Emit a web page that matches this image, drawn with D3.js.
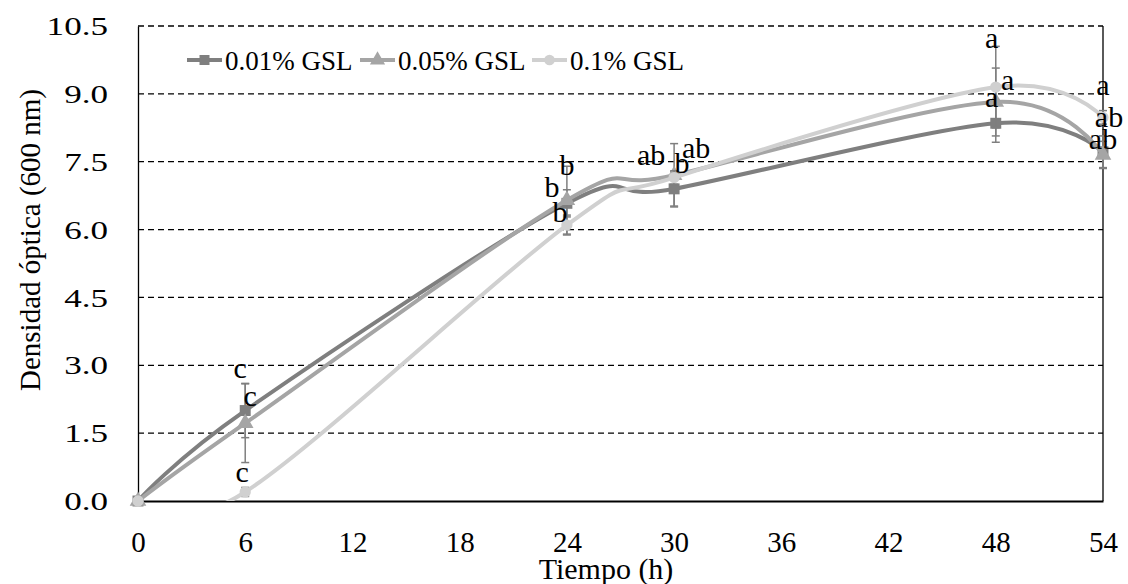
<!DOCTYPE html>
<html>
<head>
<meta charset="utf-8">
<script src="https://cdn.jsdelivr.net/npm/d3@7"></script>
<style>
  html, body { margin: 0; padding: 0; background: #ffffff; }
</style>
</head>
<body>
<div id="wrapper"></div>
<script>
// hours where the readings were taken
const hours = [0, 6, 24, 30, 48, 54]
const xTicks = [0, 6, 12, 18, 24, 30, 36, 42, 48, 54]
const yTicks = [0, 1.5, 3, 4.5, 6, 7.5, 9, 10.5]

const seriesNames = ['0.01% GSL', '0.05% GSL', '0.1% GSL']

// optical density per series
const gsl001 = [0, 2.0, 6.58, 6.9, 8.35, 7.72]
const gsl005 = [0, 1.72, 6.65, 7.2, 8.82, 7.65]
const gsl01 = [0, 0.2, 6.1, 7.15, 9.15, 8.48]

// error bar half widths
const err001 = [0, 0.6, 0.3, 0.38, 0.42, 0.35]
const err005 = [0, 0.87, 0.75, 0.7, 0.75, 0.3]
const err01 = [0, 0.1, 0.22, 0.15, 0.9, 0.15]

// significance letters
const letters001 = ['', 'c', 'b', 'ab', 'a', 'ab']
const letters005 = ['', 'c', 'b', 'ab', 'a', 'ab']
const letters01 = ['', 'c', 'b', 'b', 'a', 'a']

const serif = '"Liberation Serif"'

const dimensions = {
  width: 1128,
  height: 584,
  margin: { top: 26, right: 25, bottom: 83, left: 138 },
}
dimensions.boundedWidth =
  dimensions.width - dimensions.margin.left - dimensions.margin.right
dimensions.boundedHeight =
  dimensions.height - dimensions.margin.top - dimensions.margin.bottom

const series = [
  { name: seriesNames[0], values: gsl001, errors: err001, letters: letters001,
    color: '#7f7f7f', marker: d3.symbolSquare,
    offsets: [[0, 0], [5, -5], [-15, -6], [-23, -24], [-4, -16], [0, -3]] },
  { name: seriesNames[1], values: gsl005, errors: err005, letters: letters005,
    color: '#a5a5a5', marker: d3.symbolTriangle,
    offsets: [[0, 0], [-5, -45], [0, -25], [22, -17], [12, -12], [6, -28]] },
  { name: seriesNames[2], values: gsl01, errors: err01, letters: letters01,
    color: '#d0d0d0', marker: d3.symbolCircle,
    offsets: [[0, 0], [-3, -10], [-7, -3], [8, -5], [-4, -39], [0, -22]] },
]

const xScale = d3.scaleLinear()
  .domain([0, 54])
  .range([0, dimensions.boundedWidth])

const yScale = d3.scaleLinear()
  .domain([0, 10.5])
  .range([dimensions.boundedHeight, 0])

const wrapper = d3.select('#wrapper')
  .append('svg')
  .attr('width', dimensions.width)
  .attr('height', dimensions.height)

const bounds = wrapper.append('g')
  .attr('transform', `translate(${dimensions.margin.left}, ${dimensions.margin.top})`)

// dashed gridlines
bounds.append('g')
  .selectAll('line')
  .data(yTicks.filter((d) => d > 0))
  .join('line')
  .attr('x1', 0)
  .attr('x2', dimensions.boundedWidth)
  .attr('y1', (d) => yScale(d))
  .attr('y2', (d) => yScale(d))
  .attr('stroke', '#000')
  .attr('stroke-width', 1.3)
  .attr('stroke-dasharray', '6,4')

// right border
bounds.append('line')
  .attr('x1', dimensions.boundedWidth).attr('x2', dimensions.boundedWidth)
  .attr('y1', 0).attr('y2', dimensions.boundedHeight)
  .attr('stroke', '#000').attr('stroke-width', 1.3)

// y axis, labels drawn a bit wide like the original
const yAxis = bounds.append('g')
  .call(d3.axisLeft(yScale).tickValues(yTicks).tickFormat(d3.format('.1f')).tickSize(0))
yAxis.select('.domain').attr('stroke', '#000').attr('stroke-width', 1.3)
yAxis.selectAll('text')
  .attr('x', 0)
  .attr('dy', '0.33em')
  .attr('transform', 'translate(-30, 0) scale(1.35, 1)')
  .attr('fill', '#000')
  .style('font-family', serif)
  .style('font-size', '26px')

// x axis
const xAxis = bounds.append('g')
  .attr('transform', `translate(0, ${dimensions.boundedHeight})`)
  .call(d3.axisBottom(xScale).tickValues(xTicks).tickSize(0))
xAxis.select('.domain').attr('stroke', '#000').attr('stroke-width', 2)
xAxis.selectAll('text')
  .attr('y', 51)
  .attr('dy', 0)
  .attr('fill', '#000')
  .style('font-family', serif)
  .style('font-size', '29px')

// axis titles
wrapper.append('text')
  .attr('x', 606)
  .attr('y', 579)
  .attr('text-anchor', 'middle')
  .style('font-family', serif)
  .style('font-size', '30px')
  .text('Tiempo (h)')

wrapper.append('text')
  .attr('transform', 'translate(40, 240) rotate(-90)')
  .attr('text-anchor', 'middle')
  .style('font-family', serif)
  .style('font-size', '29px')
  .text('Densidad óptica (600 nm)')

const line = d3.line()
  .x((d, i) => xScale(hours[i]))
  .y((d) => yScale(d))
  .curve(d3.curveCardinal.tension(0))

bounds.append('clipPath').attr('id', 'plot-clip')
  .append('rect')
  .attr('x', -10).attr('y', -10)
  .attr('width', dimensions.boundedWidth + 20)
  .attr('height', dimensions.boundedHeight + 10)

series.forEach((s) => {
  const g = bounds.append('g')

  // error bars
  const bars = g.append('g')
    .selectAll('g')
    .data(s.values.map((v, i) => ({ x: hours[i], v, e: s.errors[i] })).filter((d) => d.e > 0))
    .join('g')
    .attr('stroke', '#7f7f7f')
    .attr('stroke-width', 1.5)
  bars.append('line')
    .attr('x1', (d) => xScale(d.x)).attr('x2', (d) => xScale(d.x))
    .attr('y1', (d) => yScale(d.v - d.e)).attr('y2', (d) => yScale(d.v + d.e))
  bars.append('line')
    .attr('x1', (d) => xScale(d.x) - 4).attr('x2', (d) => xScale(d.x) + 4)
    .attr('y1', (d) => yScale(d.v + d.e)).attr('y2', (d) => yScale(d.v + d.e))
  bars.append('line')
    .attr('x1', (d) => xScale(d.x) - 4).attr('x2', (d) => xScale(d.x) + 4)
    .attr('y1', (d) => yScale(d.v - d.e)).attr('y2', (d) => yScale(d.v - d.e))

  g.append('path')
    .datum(s.values)
    .attr('clip-path', 'url(#plot-clip)')
    .attr('d', line)
    .attr('fill', 'none')
    .attr('stroke', s.color)
    .attr('stroke-width', 4)

  g.selectAll('.dot')
    .data(s.values)
    .join('path')
    .attr('class', 'dot')
    .attr('transform', (d, i) => `translate(${xScale(hours[i])}, ${yScale(d)})`)
    .attr('d', d3.symbol().type(s.marker).size(s.marker === d3.symbolCircle ? 100 : 120))
    .attr('fill', s.color)
})

// significance letters on top
series.forEach((s) => {
  bounds.append('g')
    .selectAll('text')
    .data(s.values.map((v, i) => ({ x: hours[i], v, t: s.letters[i], o: s.offsets[i] })).filter((d) => d.t))
    .join('text')
    .attr('x', (d) => xScale(d.x) + d.o[0])
    .attr('y', (d) => yScale(d.v) + d.o[1])
    .attr('text-anchor', 'middle')
    .attr('fill', '#000')
    .style('font-family', serif)
    .style('font-size', '30px')
    .text((d) => d.t)
})

// legend
const legendX = [187, 360, 532]
const legend = wrapper.append('g')
  .selectAll('g')
  .data(series)
  .join('g')
  .attr('transform', (d, i) => `translate(${legendX[i]}, 60)`)
legend.append('line')
  .attr('x1', 0).attr('x2', 35)
  .attr('stroke', (d) => d.color)
  .attr('stroke-width', 4)
legend.append('path')
  .attr('transform', 'translate(17.5, 0)')
  .attr('d', (d) => d3.symbol().type(d.marker).size(d.marker === d3.symbolCircle ? 90 : 100)())
  .attr('fill', (d) => d.color)
legend.append('text')
  .attr('x', 38)
  .attr('y', 10)
  .style('font-family', serif)
  .style('font-size', '27px')
  .text((d) => d.name)
</script>
</body>
</html>
